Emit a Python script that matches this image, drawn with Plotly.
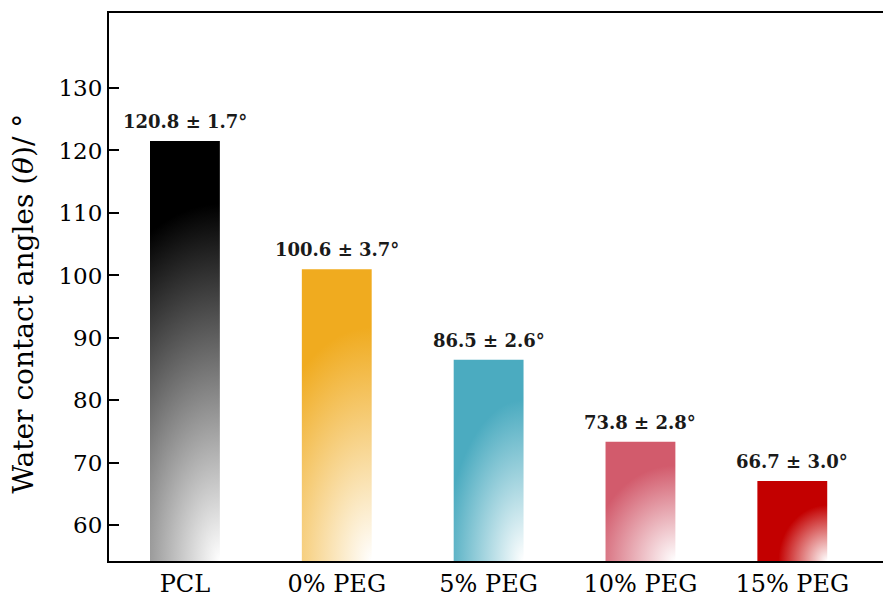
import plotly.graph_objects as go

# ---- data ----
categories = ["PCL", "0% PEG", "5% PEG", "10% PEG", "15% PEG"]
bar_heights = [121.5, 101.0, 86.5, 73.4, 67.1]   # drawn bar tops
means = [120.8, 100.6, 86.5, 73.8, 66.7]          # labelled means
errors = [1.7, 3.7, 2.6, 2.8, 3.0]                # labelled std dev
y_ticks = [60, 70, 80, 90, 100, 110, 120, 130]
y_title = "Water contact angles (<i>θ</i>)/ °"

# ---- style ----
colors = ["#000000", "#F0AB1F", "#4BABC0", "#D25B6C", "#C30000"]
solid_at = [0.85, 0.8, 0.8, 0.8, 0.7]
spot_rx = [3.0, 2.2, 1.4, 1.5, 1.0]
bar_w = 0.46
y_range = [54.3, 142.0]
x_range = [-0.5, 4.65]
FONT = "DejaVu Serif"

fig = go.Figure()

for i, (cat, h) in enumerate(zip(categories, bar_heights)):
    base = y_range[0]
    xl, xr = i - bar_w / 2, i + bar_w / 2
    R = spot_rx[i] * bar_w
    H = h - base
    # rectangle plus zero-area spurs so the radial gradient is centred on the
    # bottom-right corner of the bar
    xs = [xr - R, xl, xl, xr, xr, xr + R, xr]
    ys = [base, base, h, h, base, base - H, base]
    fig.add_trace(go.Scatter(
        x=xs, y=ys, mode="lines", fill="toself",
        line=dict(width=0, simplify=False),
        fillgradient=dict(type="radial",
                          colorscale=[[0, "#ffffff"], [solid_at[i], colors[i]], [1, colors[i]]]),
        hoverinfo="skip", showlegend=False, name=cat,
    ))

for i, (m, e, h) in enumerate(zip(means, errors, bar_heights)):
    fig.add_annotation(x=i, y=h, text=f"{m} ± {e}°", showarrow=False,
                       yanchor="bottom", yshift=7,
                       font=dict(family=FONT, size=18, color="#1a1a1a", weight="bold"))

# y-axis title
fig.add_annotation(x=-0.109, y=0.469, xref="paper", yref="paper", text=y_title,
                   textangle=-90, showarrow=False, xanchor="center", yanchor="middle",
                   font=dict(family=FONT, size=28, color="black"))

# page body has an 8px margin, so the figure is shrunk/shifted to fit the window
fig.update_layout(
    width=883, height=595,
    margin=dict(l=101, r=0, t=5, b=42),
    plot_bgcolor="white", paper_bgcolor="white",
    showlegend=False,
    font=dict(family=FONT, color="black"),
)
fig.update_xaxes(
    range=x_range, tickmode="array", tickvals=list(range(len(categories))),
    ticktext=categories, tickfont=dict(family=FONT, size=24, color="black"),
    showline=True, linecolor="black", linewidth=2, mirror=True,
    showgrid=False, zeroline=False, ticks="", automargin=False,
)
fig.update_yaxes(
    range=y_range, tickmode="array", tickvals=y_ticks,
    tickfont=dict(family=FONT, size=23, color="black"),
    showline=True, linecolor="black", linewidth=2, mirror=False,
    showgrid=False, zeroline=False, automargin=False,
    ticks="inside", ticklen=10, tickwidth=2, tickcolor="black",
)

fig.write_html("out.html")
